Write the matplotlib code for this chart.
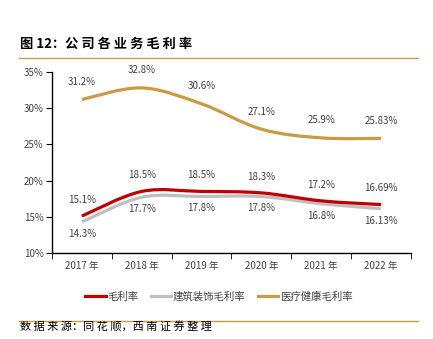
import matplotlib
matplotlib.use('Agg')
import matplotlib.pyplot as plt
from matplotlib.path import Path
from matplotlib.patches import PathPatch
from matplotlib.lines import Line2D
import numpy as np

plt.rcParams['font.family'] = ['Noto Sans CJK SC', 'DejaVu Sans']

years = ['2017 年', '2018 年', '2019 年', '2020 年', '2021 年', '2022 年']
total = [15.1, 18.5, 18.5, 18.3, 17.2, 16.69]
build = [14.3, 17.7, 17.8, 17.8, 16.8, 16.13]
health = [31.2, 32.8, 30.6, 27.1, 25.9, 25.83]
total_lbl = ['15.1%', '18.5%', '18.5%', '18.3%', '17.2%', '16.69%']
build_lbl = ['14.3%', '17.7%', '17.8%', '17.8%', '16.8%', '16.13%']
health_lbl = ['31.2%', '32.8%', '30.6%', '27.1%', '25.9%', '25.83%']

RED = '#C00000'
GRAY = '#BFBFBF'
GOLD = '#CC9A45'
TXT = '#404040'


def smooth_path(xs, ys):
    # 平滑折线：三次贝塞尔
    p = np.column_stack([xs, ys]).astype(float)
    n = len(p)
    verts = [p[0]]
    codes = [Path.MOVETO]
    for i in range(n - 1):
        p0 = p[i - 1] if i > 0 else p[i]
        p3 = p[i + 2] if i + 2 < n else p[i + 1]
        c1 = p[i] + (p[i + 1] - p0) / 6
        c2 = p[i + 1] - (p3 - p[i]) / 6
        verts += [c1, c2, p[i + 1]]
        codes += [Path.CURVE4] * 3
    return Path(verts, codes)


fig = plt.figure(figsize=(4.33, 3.39), dpi=100)
ax = fig.add_axes([0.120, 0.2537, 0.829, 0.534])

x = np.arange(len(years))
for ys, c in [(build, GRAY), (total, RED), (health, GOLD)]:
    ax.add_patch(PathPatch(smooth_path(x, ys), fill=False, edgecolor=c,
                           lw=2.3, capstyle='butt', transform=ax.transData))

for i in range(len(years)):
    ax.annotate(health_lbl[i], (x[i], health[i]), xytext=(0, 9), textcoords='offset points',
                ha='center', va='bottom', fontsize=7, color=TXT)
    ax.annotate(total_lbl[i], (x[i], total[i]), xytext=(0, 8), textcoords='offset points',
                ha='center', va='bottom', fontsize=7, color=TXT)
    ax.annotate(build_lbl[i], (x[i], build[i]), xytext=(0, -5), textcoords='offset points',
                ha='center', va='top', fontsize=7, color=TXT)

ax.set_xlim(-0.5, 5.5)
ax.set_ylim(10, 35)
ax.set_yticks([10, 15, 20, 25, 30, 35])
ax.set_yticklabels(['10%', '15%', '20%', '25%', '30%', '35%'], fontsize=7, color=TXT)
ax.set_xticks(x)
ax.set_xticklabels(years, fontsize=7, color=TXT)
ax.set_xticks(np.arange(-0.5, 6, 1), minor=True)
ax.tick_params(axis='x', which='major', length=0, pad=6)
ax.tick_params(axis='x', which='minor', length=4, direction='out', color='black')
ax.tick_params(axis='y', length=4, direction='out', pad=2)
for s in ['top', 'right']:
    ax.spines[s].set_visible(False)
ax.spines['left'].set_linewidth(1.0)
ax.spines['bottom'].set_linewidth(1.0)

handles = [Line2D([], [], color=RED, lw=2.3),
           Line2D([], [], color=GRAY, lw=2.3),
           Line2D([], [], color=GOLD, lw=2.3)]
fig.legend(handles, ['毛利率', '建筑装饰毛利率', '医疗健康毛利率'], loc='center',
           bbox_to_anchor=(0.505, 0.124), ncol=3, frameon=False, fontsize=7.5,
           handlelength=2.0, handletextpad=0.1, columnspacing=1.2,
           labelcolor=TXT)

fig.text(0.046, 0.870, '图 12：公 司 各 业 务 毛 利 率', fontsize=9.5, fontweight='bold',
         va='center', ha='left', color='black')
fig.add_artist(Line2D([0.044, 0.965], [0.829, 0.829], color=GOLD, lw=1.0))
fig.add_artist(Line2D([0.044, 0.965], [0.053, 0.053], color=GOLD, lw=1.0))
fig.text(0.046, 0.034, '数 据 来 源：同 花 顺，西 南 证 券 整 理', fontsize=8, style='italic',
         va='center', ha='left', color='black')

fig.savefig('out.png', dpi=100)
